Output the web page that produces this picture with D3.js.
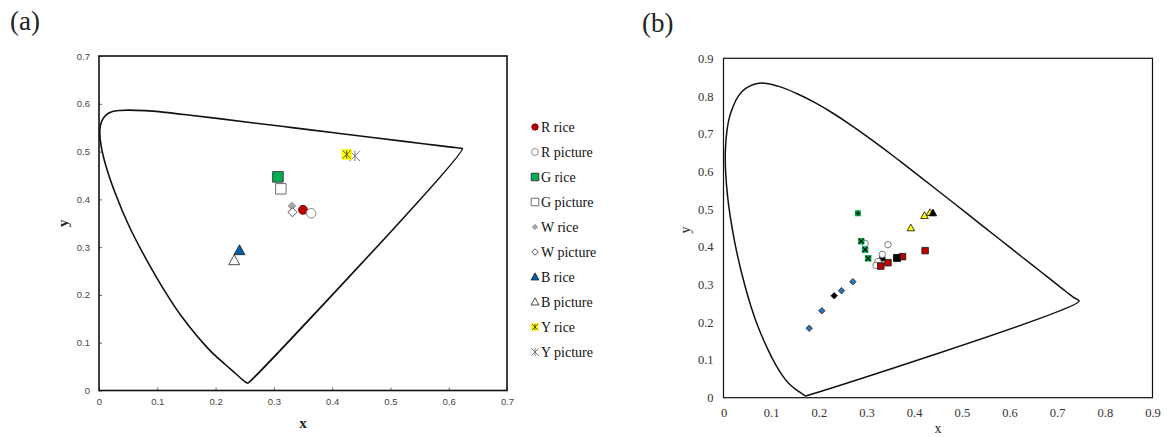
<!DOCTYPE html>
<html>
<head>
<meta charset="utf-8">
<script src="https://cdn.jsdelivr.net/npm/d3@7"></script>
<style>
  html, body { margin: 0; padding: 0; background: #fff; }
  svg { display: block; }
</style>
</head>
<body>
<svg id="chart" width="1167" height="437"></svg>
<script>
// ---------- DATA ----------
// Panel (a): CIE 1976 u'v' spectral locus (labelled x, y in the figure)
const locusA_x = [0.2568,0.2557,0.2545,0.2522,0.2461,0.2347,0.2161,0.1877,0.1441,0.1147,0.0828,0.0521,0.0282,0.0119,0.0035,0.0014,0.0046,0.0123,0.0231,0.0360,0.0501,0.0792,0.1127,0.1531,0.2026,0.2623,0.3315,0.4035,0.4692,0.5203,0.5565,0.5830,0.6005,0.6109,0.6199,0.6234];
const locusA_y = [0.0166,0.0159,0.0159,0.0169,0.0226,0.0350,0.0549,0.0871,0.1510,0.2044,0.2708,0.3427,0.4117,0.4698,0.5131,0.5432,0.5638,0.5770,0.5837,0.5861,0.5868,0.5856,0.5821,0.5766,0.5694,0.5604,0.5501,0.5393,0.5296,0.5219,0.5165,0.5125,0.5099,0.5084,0.5070,0.5065];

const aNames = ["R rice","R picture","G rice","G picture","W rice","W picture","B rice","B picture","Y rice","Y picture"];
const aX = [0.350,0.364,0.307,0.312,0.331,0.332,0.241,0.232,0.425,0.439];
const aY = [0.378,0.371,0.447,0.422,0.386,0.373,0.293,0.272,0.494,0.491];
const aTicksX = [0,0.1,0.2,0.3,0.4,0.5,0.6,0.7];
const aTicksY = [0,0.1,0.2,0.3,0.4,0.5,0.6,0.7];

// Panel (b): CIE 1931 xy spectral locus
const locusB_x = [0.1741,0.1738,0.1733,0.1726,0.1714,0.1703,0.1689,0.1669,0.1644,0.1611,0.1566,0.1510,0.1440,0.1355,0.1241,0.1096,0.0913,0.0687,0.0454,0.0235,0.0082,0.0039,0.0139,0.0389,0.0743,0.1142,0.1547,0.1929,0.2296,0.2658,0.3016,0.3373,0.3731,0.4087,0.4441,0.4788,0.5125,0.5448,0.5752,0.6029,0.6270,0.6482,0.6658,0.6801,0.6915,0.7006,0.7079,0.7140,0.7190,0.7260,0.7320,0.7400,0.7460];
const locusB_y = [0.0050,0.0049,0.0048,0.0048,0.0051,0.0058,0.0069,0.0086,0.0109,0.0138,0.0177,0.0227,0.0297,0.0399,0.0578,0.0868,0.1327,0.2007,0.2950,0.4127,0.5384,0.6548,0.7502,0.8120,0.8338,0.8262,0.8059,0.7816,0.7543,0.7243,0.6923,0.6589,0.6245,0.5896,0.5547,0.5202,0.4866,0.4544,0.4242,0.3965,0.3725,0.3514,0.3340,0.3197,0.3083,0.2993,0.2920,0.2859,0.2809,0.2740,0.2680,0.2620,0.2560];

const bGreenPlusX = [0.282];
const bGreenPlusY = [0.489];
const bGreenX = [0.289,0.297,0.3035];
const bGreenY = [0.415,0.3925,0.3695];
const bCircleX = [0.297,0.345,0.333,0.324,0.320];
const bCircleY = [0.409,0.406,0.380,0.361,0.351];
const bBlackCircleX = [0.333];
const bBlackCircleY = [0.370];
const bRedX = [0.330,0.345,0.3755,0.423];
const bRedY = [0.349,0.358,0.374,0.390];
const bBlackSquareX = [0.364];
const bBlackSquareY = [0.3705];
const bYellowX = [0.393,0.4217,0.433];
const bYellowY = [0.450,0.4827,0.4906];
const bBlackTriX = [0.4393];
const bBlackTriY = [0.4898];
const bBlueX = [0.2714,0.2476,0.2064,0.1798];
const bBlueY = [0.3076,0.2838,0.2307,0.184];
const bBlackDiamondX = [0.2322];
const bBlackDiamondY = [0.2705];
const bTicksX = [0,0.1,0.2,0.3,0.4,0.5,0.6,0.7,0.8,0.9];
const bTicksY = [0,0.1,0.2,0.3,0.4,0.5,0.6,0.7,0.8,0.9];

// ---------- STYLES ----------
const aStyle = [
  {shape:"circle",  fill:"#C00000", stroke:"#5a0000", sw:0.8, size:9},
  {shape:"circle",  fill:"#fff",    stroke:"#8c8c8c", sw:1,   size:9.5},
  {shape:"square",  fill:"#00B050", stroke:"#3a3a3a", sw:1,   size:10.5},
  {shape:"square",  fill:"#fff",    stroke:"#6e6e6e", sw:1,   size:10.5},
  {shape:"diamond", fill:"#A6A6A6", stroke:"none",    sw:0,   size:9},
  {shape:"diamond", fill:"#fff",    stroke:"#222",    sw:0.8, size:9},
  {shape:"triangle",fill:"#0060B0", stroke:"#1a1a1a", sw:0.8, size:11},
  {shape:"triangle",fill:"#fff",    stroke:"#222",    sw:0.8, size:11},
  {shape:"starbox", fill:"#FFFF00", stroke:"#333",    sw:0.8, size:10.5},
  {shape:"star",    fill:"none",    stroke:"#7a7a7a", sw:1,   size:10.5}
];

function shapePath(shape, s) {
  const r = s / 2;
  switch (shape) {
    case "circle":
      return `M${r},0A${r},${r},0,1,1,${-r},0A${r},${r},0,1,1,${r},0Z`;
    case "square":
    case "starbox":
      return `M${-r},${-r}H${r}V${r}H${-r}Z`;
    case "diamond":
      return `M0,${-r}L${r},0L0,${r}L${-r},0Z`;
    case "triangle": {
      const h = s * 0.9;
      return `M0,${-h*0.58}L${r},${h*0.42}L${-r},${h*0.42}Z`;
    }
    case "star":
      return `M0,${-r}V${r}M${-r},${-r}L${r},${r}M${-r},${r}L${r},${-r}`;
    case "x":
      return `M${-r},${-r}L${r},${r}M${-r},${r}L${r},${-r}`;
    case "plus":
      return `M0,${-r}V${r}M${-r},0H${r}`;
  }
}

function drawMarker(g, shape, x, y, size, fill, stroke, sw) {
  const m = g.append("g").attr("transform", `translate(${x},${y})`);
  if (shape === "starbox") {
    m.append("path").attr("d", shapePath("square", size)).attr("fill", fill).attr("stroke", "none");
    m.append("path").attr("d", shapePath("star", size*0.8)).attr("fill", "none").attr("stroke", stroke).attr("stroke-width", sw);
  } else if (shape === "star") {
    m.append("path").attr("d", shapePath("star", size)).attr("fill", "none").attr("stroke", stroke).attr("stroke-width", sw);
  } else {
    m.append("path").attr("d", shapePath(shape, size)).attr("fill", fill)
      .attr("stroke", stroke).attr("stroke-width", sw);
  }
  return m;
}

const svg = d3.select("#chart");

// ================= PANEL (a) =================
{
  const L = 99, R = 507, T = 56, B = 390.5;
  const x = d3.scaleLinear().domain([0, 0.7]).range([L, R]);
  const y = d3.scaleLinear().domain([0, 0.7]).range([B, T]);
  const g = svg.append("g");

  svg.append("text").attr("x", 10).attr("y", 30)
    .attr("font-family", "Liberation Serif, Times New Roman, serif")
    .attr("font-size", 27).attr("fill", "#222").text("(a)");

  const xAx = g.append("g").attr("transform", `translate(0,${B})`)
    .call(d3.axisBottom(x).tickValues(aTicksX).tickSizeInner(-3).tickSizeOuter(0).tickPadding(8)
      .tickFormat(d => d === 0 ? "0" : d3.format(".1f")(d)));
  const yAx = g.append("g").attr("transform", `translate(${L},0)`)
    .call(d3.axisLeft(y).tickValues(aTicksY).tickSizeInner(-3).tickSizeOuter(0).tickPadding(9)
      .tickFormat(d => d === 0 ? "0" : d3.format(".1f")(d)));
  [xAx, yAx].forEach(ax => {
    ax.select(".domain").remove();
    ax.selectAll("line").attr("stroke", "#666").attr("stroke-width", 1);
    ax.selectAll("text").attr("font-family", "Liberation Sans, Arial, sans-serif")
      .attr("font-size", 9.5).attr("fill", "#444");
  });

  g.append("rect").attr("x", L).attr("y", T).attr("width", R - L).attr("height", B - T)
    .attr("fill", "none").attr("stroke", "#111").attr("stroke-width", 1.6);

  const locus = locusA_x.map((v, i) => [v, locusA_y[i]]);
  g.append("path").datum(locus)
    .attr("d", d3.line().x(d => x(d[0])).y(d => y(d[1])).curve(d3.curveCatmullRomClosed.alpha(0.5)))
    .attr("fill", "none").attr("stroke", "#111").attr("stroke-width", 1.6);

  // points
  const order = [4,5,3,2,0,1,6,7,9,8];
  order.forEach(i => {
    const s = aStyle[i];
    drawMarker(g, s.shape, x(aX[i]), y(aY[i]), s.size, s.fill, s.stroke, s.sw);
  });

  g.append("text").attr("x", (L + R) / 2 + 0).attr("y", 428).attr("text-anchor", "middle")
    .attr("font-family", "Liberation Serif, Times New Roman, serif").attr("font-weight", "bold")
    .attr("font-size", 15).attr("fill", "#222").text("x");
  g.append("text").attr("transform", `translate(68,${(T + B) / 2}) rotate(-90)`).attr("text-anchor", "middle")
    .attr("font-family", "Liberation Serif, Times New Roman, serif").attr("font-weight", "bold")
    .attr("font-size", 15).attr("fill", "#222").text("y");

  // legend
  const leg = g.append("g");
  aNames.forEach((name, i) => {
    const s = aStyle[i];
    const ly = 127 + i * 25;
    drawMarker(leg, s.shape, 535, ly, s.size * 0.72, s.fill, s.stroke, s.sw);
    leg.append("text").attr("x", 541).attr("y", ly).attr("dy", "0.35em")
      .attr("font-family", "Liberation Serif, Times New Roman, serif")
      .attr("font-size", 14).attr("fill", "#111").text(name);
  });
}

// ================= PANEL (b) =================
{
  const L = 723.5, R = 1152.5, T = 58.3, B = 397.7;
  const x = d3.scaleLinear().domain([0, 0.9]).range([L, R]);
  const y = d3.scaleLinear().domain([0, 0.9]).range([B, T]);
  const g = svg.append("g");

  svg.append("text").attr("x", 642).attr("y", 32)
    .attr("font-family", "Liberation Serif, Times New Roman, serif")
    .attr("font-size", 27).attr("fill", "#222").text("(b)");

  const xAx = g.append("g").attr("transform", `translate(0,${B})`)
    .call(d3.axisBottom(x).tickValues(bTicksX).tickSize(0).tickPadding(10)
      .tickFormat(d => d === 0 ? "0" : d3.format(".1f")(d)));
  const yAx = g.append("g").attr("transform", `translate(${L},0)`)
    .call(d3.axisLeft(y).tickValues(bTicksY).tickSize(0).tickPadding(10)
      .tickFormat(d => d === 0 ? "0" : d3.format(".1f")(d)));
  [xAx, yAx].forEach(ax => {
    ax.select(".domain").remove();
    ax.selectAll("text").attr("font-family", "Liberation Serif, Times New Roman, serif")
      .attr("font-size", 12.5).attr("fill", "#333");
  });

  g.append("rect").attr("x", L).attr("y", T).attr("width", R - L).attr("height", B - T)
    .attr("fill", "none").attr("stroke", "#111").attr("stroke-width", 1.2);

  const locus = locusB_x.map((v, i) => [v, locusB_y[i]]);
  g.append("path").datum(locus)
    .attr("d", d3.line().x(d => x(d[0])).y(d => y(d[1])).curve(d3.curveCatmullRomClosed.alpha(0.5)))
    .attr("fill", "none").attr("stroke", "#111").attr("stroke-width", 1.5);

  const pts = (xs, ys) => xs.map((v, i) => [x(v), y(ys[i])]);

  pts(bBlueX, bBlueY).forEach(p => drawMarker(g, "diamond", p[0], p[1], 6.5, "#2E75B6", "#111", 0.7));
  pts(bBlackDiamondX, bBlackDiamondY).forEach(p => drawMarker(g, "diamond", p[0], p[1], 6.5, "#000", "#000", 0.7));
  pts(bBlackCircleX, bBlackCircleY).forEach(p => drawMarker(g, "circle", p[0], p[1], 6, "#000", "#000", 0.7));
  pts(bCircleX, bCircleY).forEach(p => drawMarker(g, "circle", p[0], p[1], 6.5, "#fff", "#7a7a7a", 1));
  pts(bGreenPlusX, bGreenPlusY).forEach(p => {
    drawMarker(g, "square", p[0], p[1], 6, "#00B050", "none", 0);
    drawMarker(g, "plus", p[0], p[1], 5, "none", "#000", 1);
  });
  pts(bGreenX, bGreenY).forEach(p => {
    drawMarker(g, "square", p[0], p[1], 6.5, "#00B050", "none", 0);
    drawMarker(g, "x", p[0], p[1], 5, "none", "#000", 1.1);
  });
  pts(bRedX, bRedY).forEach(p => drawMarker(g, "square", p[0], p[1], 6.5, "#C00000", "#222", 0.9));
  pts(bBlackSquareX, bBlackSquareY).forEach(p => drawMarker(g, "square", p[0], p[1], 7, "#000", "#000", 0.8));
  pts(bYellowX, bYellowY).forEach(p => drawMarker(g, "triangle", p[0], p[1], 7.5, "#FFFF00", "#111", 0.8));
  pts(bBlackTriX, bBlackTriY).forEach(p => drawMarker(g, "triangle", p[0], p[1], 7.5, "#000", "#000", 0.8));

  g.append("text").attr("x", (L + R) / 2).attr("y", 433).attr("text-anchor", "middle")
    .attr("font-family", "Liberation Serif, Times New Roman, serif")
    .attr("font-size", 14).attr("fill", "#222").text("x");
  g.append("text").attr("transform", `translate(690,${(T + B) / 2 + 2}) rotate(-90)`).attr("text-anchor", "middle")
    .attr("font-family", "Liberation Serif, Times New Roman, serif")
    .attr("font-size", 14).attr("fill", "#222").text("y");
}
</script>
</body>
</html>
